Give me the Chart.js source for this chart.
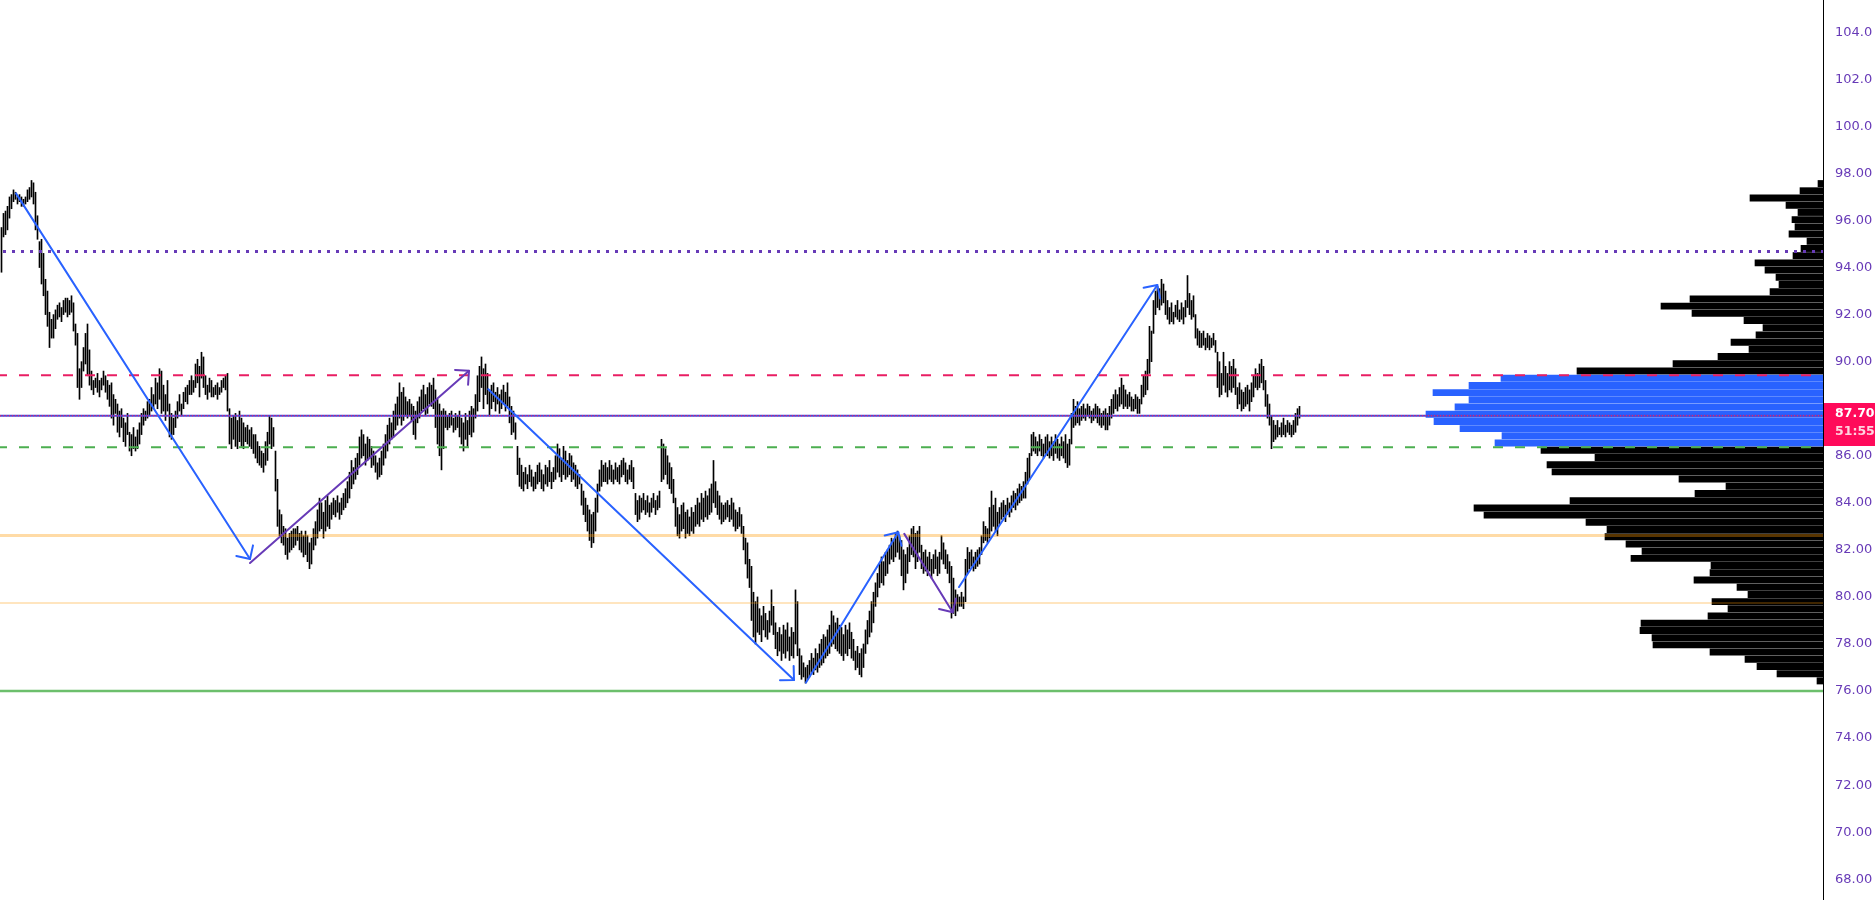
<!DOCTYPE html>
<html><head><meta charset="utf-8">
<script src="https://cdn.jsdelivr.net/npm/chart.js@4.4.1/dist/chart.umd.min.js"></script>
<style>
html,body{margin:0;padding:0;background:#fff;overflow:hidden}
#wrap{position:relative;width:1875px;height:900px;background:#fff}
#wrap canvas{position:absolute;left:0;top:0}
</style></head><body>
<div id="wrap"><canvas id="vp" width="1875" height="900"></canvas><canvas id="main" width="1875" height="900"></canvas></div>
<script>
// ---- candle highs / lows (one entry per bar, oldest first) ----
const highs = [
95.7,96.3,96.4,96.6,97.0,97.1,97.3,97.2,97.0,97.1,97.0,96.9,97.0,97.3,97.4,97.7,97.6,
97.2,96.2,95.1,95.2,94.6,93.5,93.0,92.1,91.8,92.0,92.2,92.4,92.5,92.3,92.6,92.7,92.7,92.6,92.8,92.5,91.6,91.2,89.7,90.0,90.6,91.2,91.6,90.5,
89.6,89.2,89.3,89.5,89.2,89.3,89.6,89.4,89.2,89.0,
89.1,88.6,88.4,88.2,87.9,88.0,87.6,87.4,87.8,87.0,86.9,87.2,86.8,87.1,
87.4,87.8,88.0,87.9,88.3,88.4,88.9,88.6,89.3,89.1,89.7,89.6,89.0,88.6,89.2,88.2,87.8,87.6,
87.9,88.3,88.6,88.2,88.7,88.9,89.0,89.2,89.4,89.2,89.9,90.1,89.8,90.4,90.2,
89.4,89.0,89.3,89.2,88.9,89.0,89.1,88.9,89.2,89.3,89.4,89.5,
88.0,87.6,87.7,87.8,87.5,87.9,87.6,87.4,87.2,87.3,87.1,87.2,86.9,
86.9,86.6,86.4,86.2,86.1,86.6,87.0,87.7,87.6,87.2,86.2,85.0,83.7,83.5,83.0,
82.9,82.5,82.7,82.8,82.9,82.9,83.0,82.7,82.8,82.6,82.8,82.6,82.3,82.5,
82.9,83.2,83.7,84.2,84.0,83.6,84.1,84.3,83.9,84.0,84.2,84.1,84.3,84.0,84.2,84.4,84.6,84.9,
85.3,85.8,85.5,85.9,86.1,86.8,87.1,86.9,86.5,86.8,86.7,86.4,86.2,86.0,85.7,85.9,86.2,86.5,
86.9,87.3,87.6,87.4,87.9,88.2,88.5,89.1,88.7,88.9,88.5,88.3,88.4,88.2,88.1,87.9,88.3,
88.5,88.8,89.0,88.6,88.9,89.1,89.0,89.3,88.8,88.4,88.2,87.9,88.0,
87.9,87.7,87.8,87.9,87.6,87.8,87.7,87.9,87.6,87.4,87.8,87.5,87.9,88.1,88.0,
88.6,89.4,89.8,90.2,89.7,89.9,89.5,88.8,89.0,89.1,88.7,88.9,88.6,88.8,89.0,88.7,89.1,
88.5,88.1,87.9,87.4,86.4,85.9,
85.6,85.3,85.5,85.2,85.6,85.4,85.1,85.3,85.6,85.7,85.4,85.2,85.6,85.5,85.8,85.3,85.5,
86.0,86.5,86.3,85.9,86.4,86.2,85.8,86.1,86.0,85.7,85.6,85.4,85.2,
84.8,84.5,84.2,83.9,83.7,83.5,83.6,84.2,84.8,85.4,85.8,85.6,
85.7,85.5,85.8,85.6,85.4,85.7,85.5,85.6,85.8,85.9,85.7,85.4,85.6,85.8,85.5,
84.4,84.1,84.3,84.2,84.4,84.1,84.3,84.0,84.2,84.4,84.1,84.3,84.5,
86.7,86.5,86.3,86.0,85.7,85.5,85.0,84.2,83.8,83.5,83.9,84.0,83.6,83.7,83.4,83.8,83.6,
83.9,84.2,84.0,84.4,84.2,84.5,84.3,84.6,84.8,85.8,84.9,84.5,84.3,
84.0,83.9,84.0,84.1,83.9,84.2,84.0,83.7,83.6,83.8,83.5,83.0,82.5,82.3,81.6,
81.3,80.2,79.8,80.0,79.5,79.2,79.6,79.3,79.0,79.4,80.3,79.6,
78.9,78.5,78.7,78.4,78.8,78.6,78.9,78.3,78.7,78.5,80.3,79.8,
77.8,77.5,77.2,77.0,77.1,77.3,77.6,77.4,77.8,77.6,78.0,78.2,78.4,
78.3,78.6,78.8,79.4,79.2,78.9,79.1,78.8,78.7,78.4,78.8,78.6,78.9,78.5,78.2,
77.7,77.9,77.6,77.8,78.0,78.6,79.0,79.4,79.8,80.2,80.6,81.0,81.4,81.7,81.5,81.9,82.0,
82.2,82.5,82.4,82.7,82.8,82.6,82.4,82.0,81.8,82.1,82.6,82.9,83.0,82.7,82.8,83.0,
82.2,81.9,82.0,81.7,81.9,81.6,81.8,82.0,81.7,81.9,82.6,82.3,82.0,81.8,81.5,
81.3,80.8,80.3,80.1,80.0,80.2,80.0,81.6,82.1,81.9,82.0,81.7,81.9,82.0,82.1,
82.6,83.2,83.0,82.9,83.8,84.5,83.9,84.2,83.6,83.8,84.0,84.1,83.9,84.2,84.0,
84.3,84.5,84.4,84.6,84.8,84.7,84.9,85.3,85.9,86.1,
86.9,87.0,86.8,86.6,86.9,86.7,86.5,86.8,86.9,86.6,86.8,86.6,86.9,86.7,86.5,86.8,86.6,86.9,86.5,86.7,
87.8,88.4,88.1,88.3,88.0,88.1,88.2,88.0,88.2,88.1,87.9,88.0,88.2,88.1,88.0,87.8,87.9,88.0,87.8,88.1,
88.4,88.6,88.8,88.6,88.9,89.3,89.0,88.8,88.6,88.7,88.5,88.4,88.6,88.5,88.4,
89.0,89.4,89.6,90.1,91.5,91.3,92.6,93.0,93.2,93.1,93.5,93.3,93.0,
92.6,92.3,92.5,92.1,92.4,92.6,92.2,92.5,92.3,92.6,93.66,92.9,92.6,92.8,92.0,91.4,91.3,
91.2,91.3,91.0,91.2,91.1,91.0,91.2,90.9,90.4,90.0,89.5,90.4,89.8,89.5,90.0,89.8,90.1,89.7,
88.9,89.1,88.8,88.7,88.9,89.0,88.8,89.1,89.4,89.7,89.5,89.9,90.1,89.8,89.2,88.6,88.2,87.7,87.5,
87.3,87.5,87.2,87.4,87.6,87.3,87.5,87.4,87.3,87.5,87.8,88.0,88.1
];
const lows = [
93.8,95.3,95.4,95.6,96.1,96.5,96.8,96.9,96.7,96.8,96.6,96.6,96.7,96.8,96.9,97.0,96.7,
95.6,95.2,94.0,93.3,92.8,92.0,91.5,90.6,91.0,91.0,91.4,91.8,91.9,91.7,92.0,92.1,91.9,92.0,92.1,91.3,90.7,88.9,88.4,88.9,89.6,89.9,89.4,89.0,
88.8,88.6,88.9,88.7,88.5,88.8,89.0,88.7,88.4,88.1,
87.6,87.3,87.8,87.0,86.8,87.2,86.6,86.4,86.9,86.2,86.0,86.3,86.2,86.3,
86.5,86.9,87.3,87.5,87.6,87.7,87.9,88.0,88.2,88.0,88.4,87.8,87.9,87.5,87.9,86.8,86.7,86.9,
87.2,87.6,87.9,87.7,88.0,88.3,88.2,88.6,88.6,88.7,88.9,89.1,88.5,89.3,88.9,
88.6,88.4,88.7,88.5,88.5,88.6,88.4,88.6,88.7,88.9,88.8,87.9,
86.5,86.3,86.7,86.4,86.3,86.6,86.4,86.3,86.6,86.5,86.4,86.3,86.1,
85.9,85.7,85.6,85.5,85.3,85.6,85.8,86.5,86.3,86.4,84.5,83.0,82.6,82.3,82.2,
81.8,81.6,81.9,82.0,82.1,82.2,82.4,82.0,81.9,81.7,81.8,81.5,81.2,81.4,
82.0,82.2,82.5,82.8,82.9,82.5,82.8,83.0,82.9,83.3,83.5,83.4,83.6,83.3,83.5,83.7,83.8,84.0,
84.2,84.6,84.8,85.0,85.2,85.6,85.9,86.0,85.6,85.8,85.9,85.5,85.6,85.3,85.0,85.1,85.2,85.6,
85.9,86.2,86.5,86.7,86.8,87.1,87.3,87.6,87.3,87.5,87.7,87.6,87.7,87.5,86.9,86.7,87.4,
87.6,87.9,88.0,87.7,87.8,88.2,88.1,88.0,87.2,86.5,86.0,85.4,86.3,
87.2,87.1,87.2,87.3,87.0,87.1,87.2,86.8,86.5,86.2,86.7,86.4,86.9,86.8,87.0,
87.6,87.9,88.3,88.9,88.0,88.6,88.2,87.7,88.0,88.3,87.9,88.2,87.8,88.0,88.2,87.9,88.1,
87.4,86.9,87.0,86.7,85.2,84.7,
84.6,84.5,84.8,84.6,84.9,84.7,84.5,84.6,84.8,84.9,84.6,84.5,84.8,84.7,84.9,84.6,84.9,
85.0,85.3,85.1,84.9,85.2,85.0,85.1,85.2,84.9,85.0,84.7,84.6,84.8,
83.9,83.5,83.2,82.8,82.4,82.1,82.3,82.8,83.6,84.5,84.7,84.9,
84.9,84.8,85.0,84.9,84.8,85.0,84.9,84.8,85.1,85.2,84.9,84.8,85.0,84.9,84.6,
83.5,83.2,83.3,83.6,83.7,83.5,83.6,83.4,83.6,83.8,83.5,83.7,83.8,
84.9,85.0,85.2,84.8,84.6,84.4,84.0,83.0,82.6,82.5,82.8,82.9,82.5,82.7,82.6,82.8,82.7,
83.0,83.1,83.0,83.3,83.2,83.4,83.3,83.5,83.6,84.0,83.8,83.5,83.3,
83.1,83.2,83.3,83.4,83.2,83.3,83.0,82.8,82.9,83.0,82.7,82.0,81.4,80.8,80.4,
79.0,78.3,78.0,78.5,78.4,78.1,78.6,78.3,78.2,78.5,78.8,78.4,
77.8,77.5,77.7,77.3,77.6,77.4,77.7,77.3,77.5,77.4,78.0,77.5,
76.7,76.5,76.6,76.34,76.5,76.6,76.8,76.7,76.9,76.8,77.0,77.1,77.2,
77.4,77.5,77.6,77.9,78.0,77.8,77.7,77.6,77.5,77.3,77.6,77.5,77.8,77.4,77.3,
76.9,77.0,76.7,76.6,77.0,77.6,78.0,78.3,78.5,78.9,79.6,80.0,80.4,80.6,80.5,80.9,81.0,
81.4,81.6,81.5,81.7,81.9,81.6,80.9,80.3,80.6,81.0,81.5,81.8,81.7,81.2,81.5,81.9,
81.2,81.0,81.1,80.9,81.1,80.8,81.0,81.2,80.9,81.0,81.6,81.4,81.2,81.0,80.6,
79.1,79.3,79.2,79.4,79.6,79.6,79.5,79.8,81.0,81.2,81.3,81.1,81.2,81.3,81.4,
81.8,82.3,82.4,82.3,82.5,82.8,83.0,82.8,82.6,83.1,83.3,83.4,83.2,83.5,83.4,
83.6,83.8,83.7,83.9,84.0,84.1,84.2,84.2,84.8,85.0,
86.0,86.2,86.1,86.0,86.2,86.0,85.9,86.1,86.0,85.9,86.0,85.8,86.1,85.9,85.8,86.0,85.9,85.7,85.5,85.6,
86.5,87.2,87.3,87.4,87.3,87.5,87.6,87.5,87.7,87.6,87.4,87.5,87.6,87.4,87.3,87.2,87.3,87.1,87.1,87.3,
87.6,87.8,88.0,87.9,88.1,88.2,88.0,88.1,88.0,88.1,87.9,87.9,88.0,87.8,87.8,
88.2,88.5,88.6,88.8,89.5,90.0,91.2,92.0,92.3,92.2,92.4,92.5,92.0,
91.8,91.6,91.7,91.6,91.9,91.8,91.7,91.8,91.6,91.9,92.3,92.0,91.8,91.9,91.0,90.7,90.6,
90.6,90.7,90.5,90.6,90.5,90.6,90.7,90.4,88.9,88.5,88.6,89.0,88.7,88.5,88.8,88.7,88.9,88.6,
88.0,88.2,87.9,88.0,88.1,88.2,87.9,88.3,88.5,88.9,88.8,88.9,89.1,88.8,88.1,87.6,87.3,86.3,86.6,
86.7,86.8,86.9,86.8,86.9,86.8,87.0,86.9,86.8,86.9,87.0,87.3,87.6
];

// ---- last price / countdown ----
const lastPrice = 87.70;
const countdownText = "51:55";

// ---- price axis ----
const priceMin = 67.12, priceMax = 105.37;
const tickValues = [68,70,72,74,76,78,80,82,84,86,88,90,92,94,96,98,100,102,104];
const tickLabels = ["68.00","70.00","72.00","74.00","76.00","78.00","80.00","82.00","84.00","86.00","88.00","90.00","92.00","94.00","96.00","98.00","100.0","102.0","104.0"];

// ---- horizontal levels ----
const levelPrices = [94.68, 89.42, 86.36, 82.61, 79.74, 76.00];

// ---- trend arrows: [bar index, price] ----
const arrowFrom = [[7.25,97.15],[124.25,81.44],[243.4,88.83],[402.25,76.36],[451.4,82.68],[478.75,80.42]];
const arrowTo   = [[124.25,81.61],[233.75,89.61],[396.25,76.47],[448.4,82.75],[475.6,79.35],[577.9,93.26]];
const arrowKind = ["up","purple","up","up","purple","up"];

// ---- volume profile (rows from top price down) ----
const vpTop = 97.72, vpStep = 0.3063;
const vpVolumes = [
5,23,73,37,25,31,28,34,16,22,30,68,58,47,44,53,133,162,131,79,60,67,92,74,105,150,246,
322,354,390,354,368,397,389,363,321,328,
282,228,276,271,144,97,128,253,349,339,237,216,218,197,181,192,112,113,129,86,75,111,95,115,182,183,171,170,113,78,66,46,6
];
const valueAreaHigh = 89.42, valueAreaLow = 86.36;

const AXIS_W = 52;
const FONT = "'DejaVu Sans', Verdana, sans-serif";

// ---------- volume profile chart (underneath) ----------
const vpData = vpVolumes.map((v, k) => ({ x: v, y: vpTop - (k + 0.5) * vpStep }));
const vpColors = vpData.map(d => (d.y < valueAreaHigh && d.y > valueAreaLow) ? '#2962ff' : '#000000');
new Chart(document.getElementById('vp'), {
  type: 'bar',
  data: { datasets: [{ data: vpData, backgroundColor: vpColors, borderWidth: 0, barThickness: 6.3 }] },
  options: {
    indexAxis: 'y', responsive: false, animation: false, devicePixelRatio: 1,
    layout: { padding: { left: 0, top: 0, bottom: 0, right: AXIS_W } },
    plugins: { legend: { display: false }, tooltip: { enabled: false } },
    scales: {
      x: { type: 'linear', reverse: true, min: 0, max: 1823, display: false, offset: false },
      y: { type: 'linear', min: priceMin, max: priceMax, display: false, offset: false }
    }
  }
});

// ---------- main chart ----------
function drawArrow(ctx, x1, y1, x2, y2, color) {
  ctx.save();
  ctx.strokeStyle = color; ctx.lineWidth = 2; ctx.lineCap = 'round'; ctx.lineJoin = 'round';
  ctx.setLineDash([]);
  ctx.beginPath(); ctx.moveTo(x1, y1); ctx.lineTo(x2, y2); ctx.stroke();
  const a = Math.atan2(y2 - y1, x2 - x1), L = 14;
  ctx.beginPath();
  ctx.moveTo(x2 - L * Math.cos(a - Math.PI / 4), y2 - L * Math.sin(a - Math.PI / 4));
  ctx.lineTo(x2, y2);
  ctx.lineTo(x2 - L * Math.cos(a + Math.PI / 4), y2 - L * Math.sin(a + Math.PI / 4));
  ctx.stroke();
  ctx.restore();
}
function hline(ctx, y, x0, x1, color, width, dash, offset) {
  ctx.save();
  ctx.strokeStyle = color; ctx.lineWidth = width;
  ctx.setLineDash(dash || []); ctx.lineDashOffset = offset || 0;
  ctx.beginPath(); ctx.moveTo(x0, y); ctx.lineTo(x1, y); ctx.stroke();
  ctx.restore();
}

const overlay = {
  id: 'overlay',
  afterDatasetsDraw(chart) {
    const ctx = chart.ctx, xs = chart.scales.x, ys = chart.scales.y;
    const R = chart.chartArea.right;
    hline(ctx, ys.getPixelForValue(levelPrices[3]), 0, R, 'rgba(255,152,0,0.35)', 3);
    hline(ctx, ys.getPixelForValue(levelPrices[4]), 0, R, 'rgba(255,152,0,0.25)', 2);
    hline(ctx, ys.getPixelForValue(levelPrices[5]), 0, R, '#6cbf6c', 2.5);
    hline(ctx, ys.getPixelForValue(levelPrices[1]), 0, R, '#e91e63', 2, [10, 12], 3);
    hline(ctx, ys.getPixelForValue(levelPrices[2]), 0, R, '#4caf50', 2, [10, 12], 3);
    hline(ctx, ys.getPixelForValue(levelPrices[0]), 3, R, '#673ab7', 3, [3, 6], 0);
    const py = ys.getPixelForValue(lastPrice);
    hline(ctx, py, 0, R, '#5046d2', 2);
    hline(ctx, py, 0, R, '#ff1f5a', 1, [1, 2], 0);
    for (let k = 0; k < arrowFrom.length; k++) {
      const c = arrowKind[k] === 'purple' ? '#673ab7' : '#2962ff';
      drawArrow(ctx, xs.getPixelForValue(arrowFrom[k][0]), ys.getPixelForValue(arrowFrom[k][1]),
                     xs.getPixelForValue(arrowTo[k][0]), ys.getPixelForValue(arrowTo[k][1]), c);
    }
  },
  afterDraw(chart) {
    const ctx = chart.ctx, ys = chart.scales.y;
    const R = Math.round(chart.chartArea.right);
    ctx.save();
    ctx.fillStyle = '#000';
    ctx.fillRect(R, 0, 1, chart.height);
    const py = ys.getPixelForValue(lastPrice);
    ctx.fillStyle = '#ff0a5a';
    ctx.fillRect(R + 1, Math.round(py - 13), chart.width - R - 1, 43);
    ctx.textBaseline = 'middle'; ctx.textAlign = 'left';
    ctx.font = 'bold 12.5px ' + FONT;
    ctx.fillStyle = '#ffffff';
    ctx.fillText(lastPrice.toFixed(2), R + 12, py - 2);
    ctx.fillStyle = '#ffd3df';
    ctx.fillText(countdownText, R + 12, py + 16);
    ctx.restore();
  }
};

const candleData = highs.map((h, i) => ({ x: i, y: [lows[i], h] }));
new Chart(document.getElementById('main'), {
  type: 'bar',
  data: { datasets: [{ data: candleData, backgroundColor: '#000000', borderWidth: 0, barThickness: 1 }] },
  options: {
    responsive: false, animation: false, devicePixelRatio: 1,
    layout: { padding: 0 },
    plugins: { legend: { display: false }, tooltip: { enabled: false } },
    scales: {
      x: { type: 'linear', min: -0.75, max: 910.75, display: false, offset: false },
      y: {
        type: 'linear', position: 'right', min: priceMin, max: priceMax,
        afterFit(s) { s.width = AXIS_W; s.paddingTop = 0; s.paddingBottom = 0; },
        afterBuildTicks(s) { s.ticks = tickValues.map(v => ({ value: v })); },
        grid: { display: false, drawTicks: false },
        border: { display: false },
        ticks: {
          padding: 12, color: '#673ab7', font: { family: FONT, size: 13 },
          callback: (v, i) => tickLabels[i]
        }
      }
    }
  },
  plugins: [overlay]
});
</script>
</body></html>
